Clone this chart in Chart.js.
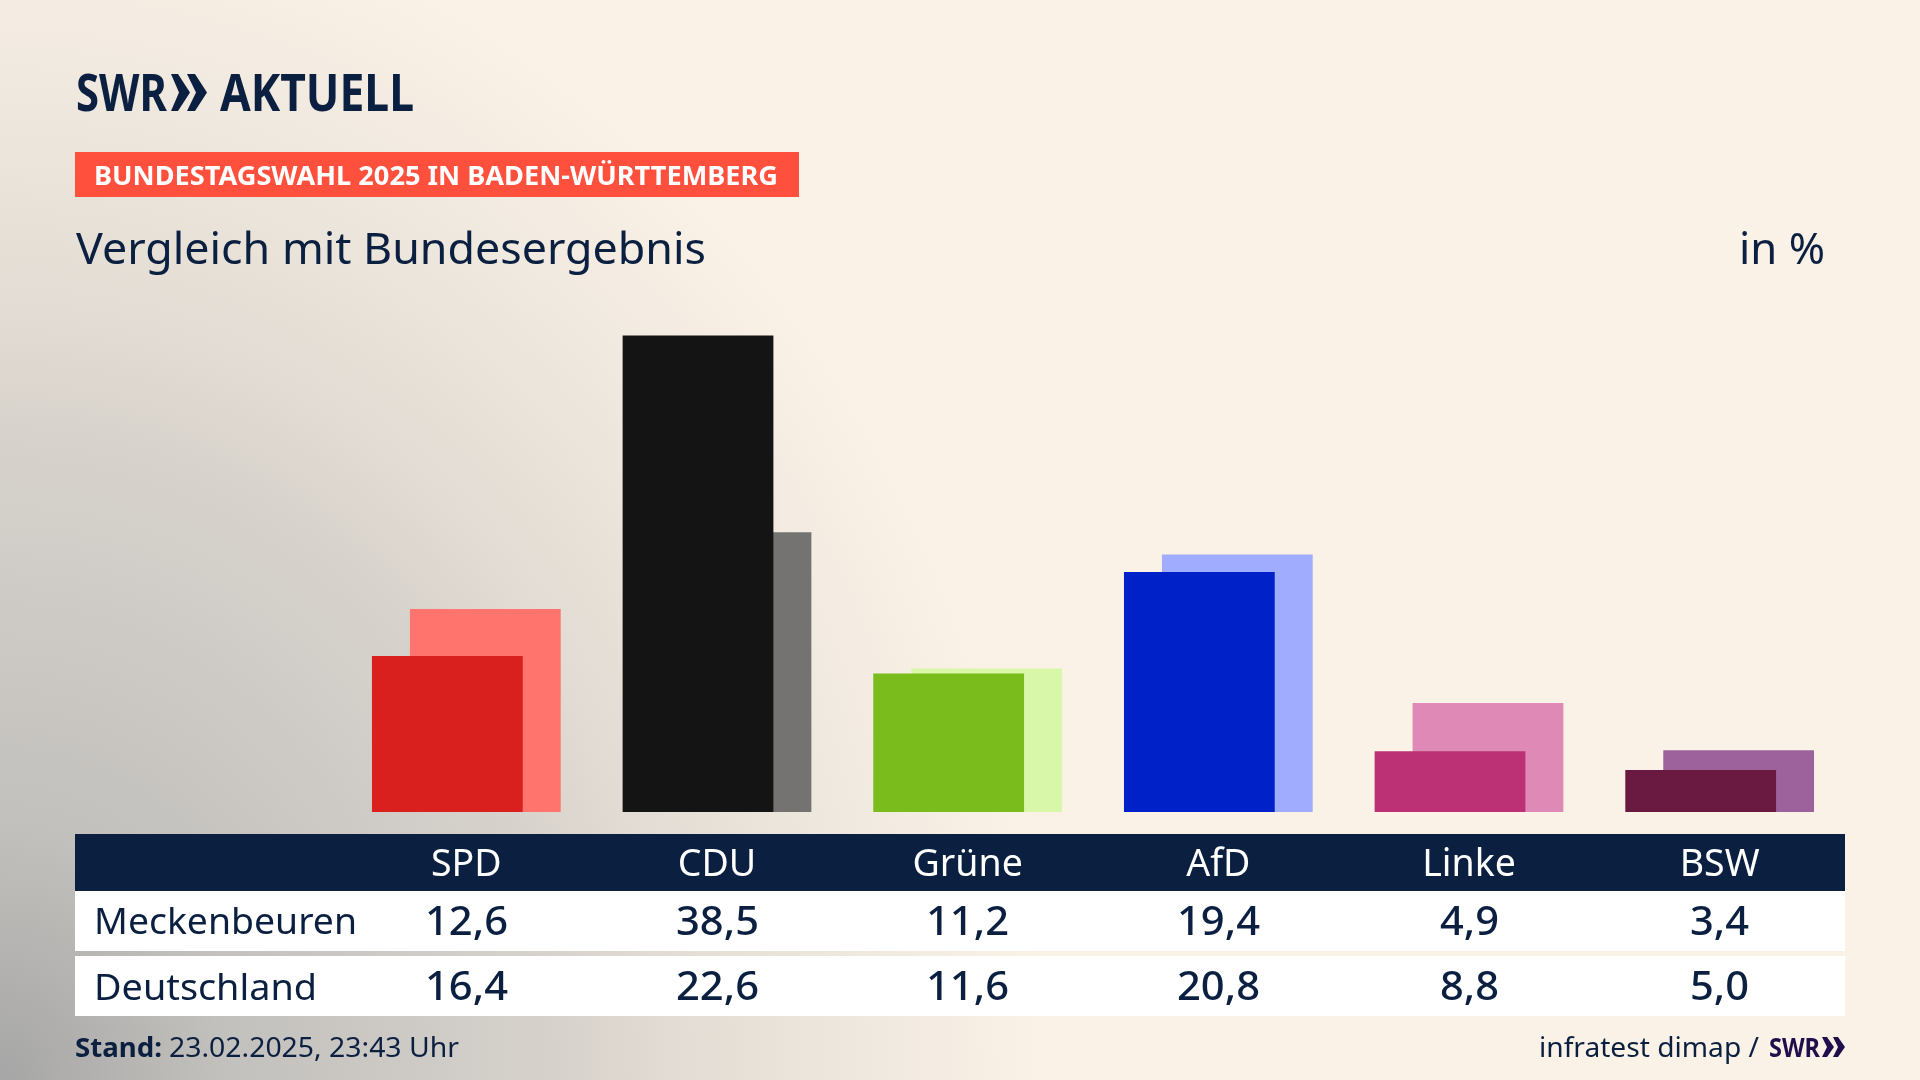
<!DOCTYPE html>
<html lang="de">
<head>
<meta charset="utf-8">
<title>Vergleich mit Bundesergebnis</title>
<script src="https://cdn.jsdelivr.net/npm/chart.js@4/dist/chart.umd.min.js"></script>
<style>
  html, body { margin: 0; padding: 0; }
  #stage {
    position: relative; width: 1920px; height: 1080px; overflow: hidden;
    font-family: "Noto Sans", sans-serif; color: #0b2040;
    background: radial-gradient(ellipse 1050px 1200px at 0 100%, #a6a6a6 0%, #c2c0bc 21%, #ccc9c5 37%, #d8d3cc 55%, #e2dbd3 63%, #efe8de 82%, #fbf2e7 100%);
  }
  .box { position: absolute; }
  .txt { position: absolute; white-space: nowrap; line-height: 1; transform-origin: left top; }
  canvas { position: absolute; left: 0; top: 0; }
</style>
</head>
<body>
<div id="stage">
  <div class="box" style="left:75px;top:152px;width:724px;height:45px;background:#ff4f3d"></div>
  <div class="box" style="left:75px;top:834px;width:1770px;height:57px;background:#0b2040"></div>
  <div class="box" style="left:75px;top:891px;width:1770px;height:60px;background:#fff"></div>
  <div class="box" style="left:75px;top:956px;width:1770px;height:60px;background:#fff"></div>
  <svg class="box" style="left:171px;top:74px" width="36" height="37" viewBox="0 0 36 37">
    <polygon fill="#0b2040" points="0,0 7,0 19,18.5 7,37 0,37 8,18.5"/>
    <polygon fill="#0b2040" points="16,0 24,0 36,18.5 24,37 16,37 25,18.5"/>
  </svg>
  <svg class="box" style="left:1822px;top:1037px" width="23" height="20" viewBox="0 0 23 20">
    <polygon fill="#1f0f4a" points="0,0 5,0 12,10 5,20 0,20 5,10"/>
    <polygon fill="#1f0f4a" points="11,0 16,0 23,10 16,20 11,20 16,10"/>
  </svg>
  <canvas id="chart" width="1920" height="1080"></canvas>
</div>
<script>
// Werte aus der Grafik
const parties = ['SPD', 'CDU', 'Grüne', 'AfD', 'Linke', 'BSW'];
const meckenbeuren = [12.6, 38.5, 11.2, 19.4, 4.9, 3.4];
const deutschland = [16.4, 22.6, 11.6, 20.8, 8.8, 5.0];
const colorsLocal = ['#da201e', '#141414', '#79bc1b', '#0020c8', '#bc3075', '#6a1a40'];
const colorsFederal = ['#ff746d', '#747371', '#d8f7a8', '#a0adff', '#df89b6', '#9d629b'];

const stage = document.getElementById('stage');

// text at a baseline position, width optional (squeezes the font to fit)
function put(text, x, baseline, size, opts) {
  opts = opts || {};
  const el = document.createElement('span');
  el.className = 'txt';
  el.textContent = text;
  el.style.fontSize = size + 'px';
  el.style.fontWeight = opts.bold ? 700 : (opts.weight || 400);
  el.style.top = (baseline - size * 0.888) + 'px';
  if (opts.color) el.style.color = opts.color;
  stage.appendChild(el);
  const w = el.getBoundingClientRect().width;
  if (opts.center) {
    el.style.left = (x - opts.width / 2) + 'px';
  } else {
    el.style.left = x + 'px';
  }
  if (opts.width) el.style.transform = 'scaleX(' + (opts.width / w) + ')';
  return el;
}

const fmt = v => v.toFixed(1).replace('.', ',');
const colCenter = i => 341 + 250.67 * (i + 0.5);
// value cells: 83px for two digit numbers, 59px for the short ones
const valueWidth = v => (v >= 10 ? 83 : 59);

put('SWR', 76, 111, 52, { bold: true, width: 91 });
put('AKTUELL', 220, 111, 52, { bold: true, width: 194 });
put('BUNDESTAGSWAHL 2025 IN BADEN-WÜRTTEMBERG', 94, 185, 27, { bold: true, color: '#fff', width: 684 });
put('Vergleich mit Bundesergebnis', 76, 264, 44, { width: 630 });
put('in %', 1739, 264, 44, { width: 86 });
put('Meckenbeuren', 94, 934, 37, { width: 263 });
put('Deutschland', 94, 1000, 37, { width: 223 });
meckenbeuren.forEach((v, i) => put(fmt(v), colCenter(i), 936, 40, { center: true, width: valueWidth(v), weight: 500 }));
deutschland.forEach((v, i) => put(fmt(v), colCenter(i), 1001, 40, { center: true, width: valueWidth(v), weight: 500 }));
put('Stand:', 75, 1057, 27, { bold: true, width: 87 });
put('23.02.2025, 23:43 Uhr', 169, 1057, 27, { width: 290 });
put('infratest dimap /', 1539, 1057, 27, { width: 220 });
put('SWR', 1769, 1057, 27, { bold: true, color: '#1f0f4a', width: 51 });

new Chart(document.getElementById('chart'), {
  type: 'bar',
  data: {
    labels: parties,
    datasets: [
      { label: 'Meckenbeuren', data: meckenbeuren, backgroundColor: colorsLocal },
      { label: 'Deutschland', data: deutschland, backgroundColor: colorsFederal }
    ]
  },
  options: {
    responsive: false,
    animation: false,
    events: [],
    layout: { padding: { left: 341, right: 75, top: 317, bottom: 0 } },
    // the bars overlap: spacing 38px, width 151px
    datasets: { bar: { categoryPercentage: 0.303, barPercentage: 3.97 } },
    plugins: { legend: { display: false }, tooltip: { enabled: false } },
    scales: {
      x: {
        grid: { display: false, drawTicks: false },
        border: { display: false },
        ticks: {
          color: '#ffffff', padding: 31, maxRotation: 0,
          font: { family: '"Noto Sans", sans-serif', size: 37.5 }
        },
        afterFit: scale => { scale.height = 268; }
      },
      y: { display: false, min: 0, max: 40 }
    }
  }
});
</script>
</body>
</html>
